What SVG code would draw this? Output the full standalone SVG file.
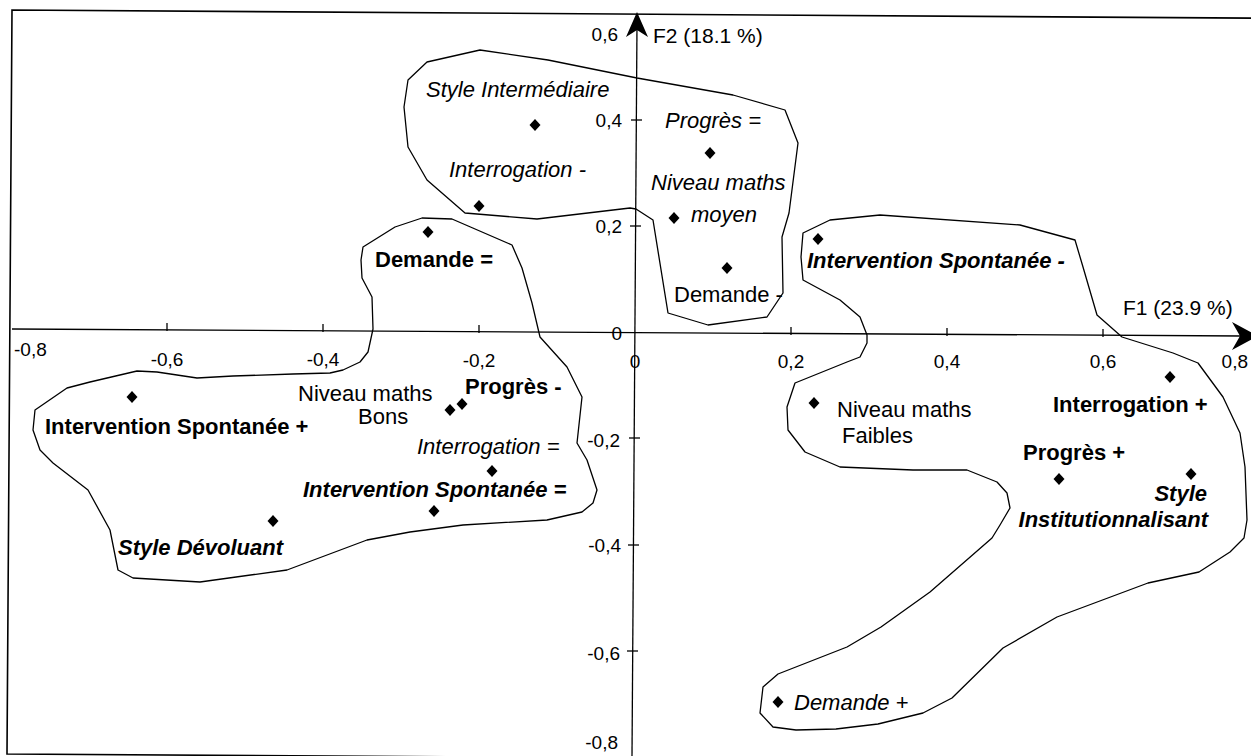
<svg xmlns="http://www.w3.org/2000/svg" xmlns:xlink="http://www.w3.org/1999/xlink" width="1251" height="756" viewBox="0 0 1251 756">
<style>
.t{font-family:"Liberation Sans",Arial,sans-serif;font-size:22px;fill:#000}
.i{font-style:italic}
.b{font-weight:bold}
.ax{font-size:19px}
.ln{fill:none;stroke:#000;stroke-width:1.3;stroke-linejoin:round}
.fr{fill:none;stroke:#000;stroke-width:1.6}
</style>
<defs>
<path id="d" d="M0,-6 L5.5,0 L0,6 L-5.5,0Z" fill="#000"/>
</defs>
<rect width="1251" height="756" fill="#fff"/>
<path class="fr" d="M1260,18.2 L12,10 L7,754 L1260,762"/>
<g id="axes">
<path class="ln" d="M12,329 L1242,336"/>
<path d="M1258,336.1 L1232,322 L1240,336 L1232,350 Z" fill="#000"/>
<path class="ln" d="M637,24 L632,756"/>
<path d="M637,12 L648,37 L637,30 L626,37 Z" fill="#000"/>
<g class="ln">
<path d="M167,323 V331"/><path d="M323,324 V332"/><path d="M479,325 V333"/>
<path d="M791,327 V335"/><path d="M947,328 V336"/><path d="M1103,329 V337"/>
<path d="M631,120 H642"/><path d="M630,226 H641"/><path d="M629,438 H640"/><path d="M628,545 H639"/><path d="M627,651 H638"/>
</g>
<g class="t ax">
<text x="14" y="356">-0,8</text>
<text x="167" y="366" text-anchor="middle">-0,6</text>
<text x="323" y="366" text-anchor="middle">-0,4</text>
<text x="479" y="367" text-anchor="middle">-0,2</text>
<text x="635" y="368" text-anchor="middle">0</text>
<text x="791" y="368" text-anchor="middle">0,2</text>
<text x="947" y="368" text-anchor="middle">0,4</text>
<text x="1103" y="368" text-anchor="middle">0,6</text>
<text x="1248" y="368" text-anchor="end">0,8</text>
<text x="618" y="41" text-anchor="end">0,6</text>
<text x="622" y="127" text-anchor="end">0,4</text>
<text x="622" y="233" text-anchor="end">0,2</text>
<text x="622" y="340" text-anchor="end">0</text>
<text x="620" y="447" text-anchor="end">-0,2</text>
<text x="621" y="552" text-anchor="end">-0,4</text>
<text x="620" y="660" text-anchor="end">-0,6</text>
<text x="618" y="749" text-anchor="end">-0,8</text>
</g>
<text class="t" x="653" y="43" style="font-size:21px">F2 (18.1 %)</text>
<text class="t" x="1123" y="315" style="font-size:21px">F1 (23.9 %)</text>
</g>
<g id="groups">
<polygon id="groupA" class="ln" points="480,50 548,60 637,78 733,95 785,110 798,143 789,213 782,237 783,293 767,317 708,325 668,313 653,220 636,209 630,208 537,219 465,213 427,180 408,147 404,107 408,80 427,62"/>
<polygon id="groupB" class="ln" points="363,247 395,227 422,218 452,219 512,245 522,268 532,303 540,337 567,367 582,397 577,443 587,460 597,490 593,503 582,512 547,520 463,525 410,532 367,540 287,570 200,582 133,578 118,570 110,530 88,490 53,463 40,450 33,430 35,410 67,388 90,382 137,371 157,372 197,378 233,376 293,374 330,373 343,370 360,362 368,352 373,329 372,297 362,278 361,260"/>
<polygon id="groupC" class="ln" points="803,233 830,220 880,215 1020,225 1075,240 1083,267 1097,315 1122,337 1173,353 1198,363 1223,397 1240,433 1245,467 1247,520 1244,538 1230,552 1199,572 1148,583 1057,617 1003,648 952,698 923,713 878,724 836,729 796,730 773,727 760,713 763,687 778,674 847,647 881,627 930,592 992,538 1000,525 1010,508 1007,493 997,482 967,470 913,470 840,467 805,452 788,430 787,407 795,383 847,362 860,357 867,343 867,335 860,317 840,300 803,280 801,257"/>
</g>
<g id="style-intermediaire"><use xlink:href="#d" x="535" y="125"/><text class="t i" x="426" y="97">Style Intermédiaire</text></g>
<g id="interrogation-moins"><use xlink:href="#d" x="479" y="206"/><text class="t i" x="449" y="177">Interrogation -</text></g>
<g id="progres-egal"><use xlink:href="#d" x="710" y="153"/><text class="t i" x="665" y="128">Progrès =</text></g>
<g id="niveau-moyen"><use xlink:href="#d" x="674" y="218"/><text class="t i" x="651" y="190">Niveau maths</text><text class="t i" x="691" y="222">moyen</text></g>
<g id="demande-moins"><use xlink:href="#d" x="727" y="268"/><text class="t" x="674" y="302">Demande -</text></g>
<g id="demande-egal"><use xlink:href="#d" x="428" y="232"/><text class="t b" x="375" y="267">Demande =</text></g>
<g id="intervention-moins"><use xlink:href="#d" x="818" y="239"/><text class="t b i" x="807" y="268">Intervention Spontanée -</text></g>
<g id="niveau-faibles"><use xlink:href="#d" x="814" y="403"/><text class="t" x="837" y="417">Niveau maths</text><text class="t" x="842" y="443">Faibles</text></g>
<g id="interrogation-plus"><use xlink:href="#d" x="1170" y="377"/><text class="t b" x="1053" y="412">Interrogation +</text></g>
<g id="progres-plus"><use xlink:href="#d" x="1059" y="479"/><text class="t b" x="1023" y="460">Progrès +</text></g>
<g id="style-institutionnalisant"><use xlink:href="#d" x="1191" y="474"/><text class="t b i" x="1207" y="501" text-anchor="end">Style</text><text class="t b i" x="1208" y="527" text-anchor="end">Institutionnalisant</text></g>
<g id="demande-plus"><use xlink:href="#d" x="778" y="702"/><text class="t i" x="794" y="710">Demande +</text></g>
<g id="intervention-plus"><use xlink:href="#d" x="132" y="397"/><text class="t b" x="45" y="434">Intervention Spontanée +</text></g>
<g id="style-devoluant"><use xlink:href="#d" x="273" y="521"/><text class="t b i" x="118" y="555">Style Dévoluant</text></g>
<g id="niveau-bons"><use xlink:href="#d" x="450" y="410"/><text class="t" x="298" y="401">Niveau maths</text><text class="t" x="358" y="424">Bons</text></g>
<g id="progres-moins"><use xlink:href="#d" x="462" y="404"/><text class="t b" x="465" y="394">Progrès -</text></g>
<g id="interrogation-egal"><use xlink:href="#d" x="492" y="471"/><text class="t i" x="417" y="454">Interrogation =</text></g>
<g id="intervention-egal"><use xlink:href="#d" x="434" y="511"/><text class="t b i" x="303" y="497">Intervention Spontanée =</text></g>
</svg>
